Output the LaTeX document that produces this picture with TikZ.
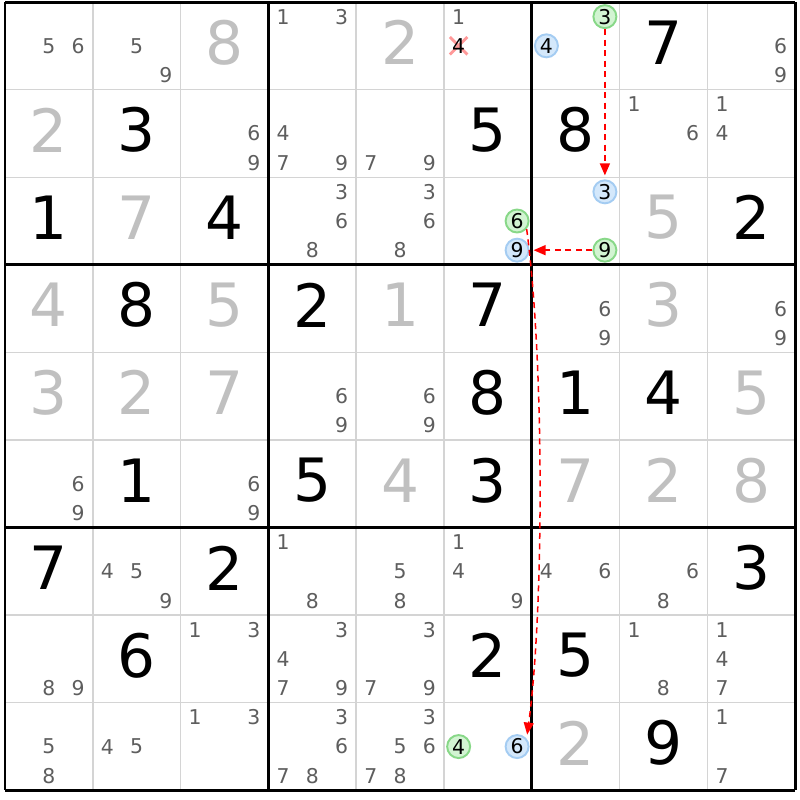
\documentclass[tikz,border=0pt]{standalone}
\usepackage{fontspec}
\setmainfont{DejaVu Sans}
\usepackage{tikz}
\usetikzlibrary{arrows.meta}
\definecolor{solvedgray}{HTML}{C0C0C0}
\definecolor{candgray}{HTML}{5E5E5E}
\definecolor{gridgray}{HTML}{D4D4D4}
\definecolor{greenfill}{HTML}{D2F4D2}
\definecolor{greenline}{HTML}{88D888}
\definecolor{bluefill}{HTML}{D4E8FB}
\definecolor{blueline}{HTML}{A4CCF2}
\tikzstyle{given} = [font=\fontsize{17pt}{17pt}\selectfont, text=black, inner sep=0pt, yshift=0.035cm]
\tikzstyle{solved} = [given, text=solvedgray]
\tikzstyle{cand} = [font=\fontsize{5.8pt}{6pt}\selectfont, text=candgray, inner sep=0pt]
\tikzstyle{greencand} = [cand, text=black, circle, minimum size=0.23cm, fill=greenfill, draw=greenline, line width=0.55pt]
\tikzstyle{bluecand} = [greencand, fill=bluefill, draw=blueline]
\tikzstyle{thin} = [gridgray, line width=0.4pt]
\tikzstyle{thick} = [black, line width=0.85pt]
\tikzstyle{strike} = [red, opacity=0.4, line width=0.8pt]
\tikzstyle{arrow} = [red, line width=0.43pt, dash pattern=on 0.06cm off 0.045cm, -{Triangle[length=0.12cm, width=0.1cm]}, shorten >=0.04cm]

\begin{document}
\begin{tikzpicture}[x=0.878cm, y=0.876cm]
        \fill [white] (-0.057,0.023) rectangle (9.055,-9.110);
        \useasboundingbox (-0.057,0.023) rectangle (9.055,-9.110);
        \foreach \i in {1,...,8} {
            \draw [thin] (\i,0) -- (\i,-9);
            \draw [thin] (0,-\i) -- (9,-\i);
        }
        \foreach \i in {0,3,6,9} {
            \draw [thick] (\i,0) -- (\i,-9);
            \draw [thick] (0,-\i) -- (9,-\i);
        }
        \foreach \r/\c/\d in {1/8/7, 2/2/3, 2/6/5, 2/7/8, 3/1/1, 3/3/4, 3/9/2, 4/2/8, 4/4/2, 4/6/7,
            5/6/8, 5/7/1, 5/8/4, 6/2/1, 6/4/5, 6/6/3, 7/1/7, 7/3/2, 7/9/3, 8/2/6, 8/6/2, 8/7/5, 9/8/9}
            \node (given\r\c) [given] at (\c-0.5,0.5-\r) {\d};
        \foreach \r/\c/\d in {1/3/8, 1/5/2, 2/1/2, 3/2/7, 3/8/5, 4/1/4, 4/3/5, 4/5/1, 4/8/3,
            5/1/3, 5/2/2, 5/3/7, 5/9/5, 6/5/4, 6/7/7, 6/8/2, 6/9/8, 9/7/2}
            \node (solved\r\c) [solved] at (\c-0.5,0.5-\r) {\d};
        \foreach \r/\c/\ds in {1/1/{5,6}, 1/2/{5,9}, 1/4/{1,3}, 1/6/{1}, 1/9/{6,9},
            2/3/{6,9}, 2/4/{4,7,9}, 2/5/{7,9}, 2/8/{1,6}, 2/9/{1,4},
            3/4/{3,6,8}, 3/5/{3,6,8}, 4/7/{6,9}, 4/9/{6,9}, 5/4/{6,9}, 5/5/{6,9},
            6/1/{6,9}, 6/3/{6,9}, 7/2/{4,5,9}, 7/4/{1,8}, 7/5/{5,8}, 7/6/{1,4,9},
            7/7/{4,6}, 7/8/{6,8}, 8/1/{8,9}, 8/3/{1,3}, 8/4/{3,4,7,9}, 8/5/{3,7,9},
            8/8/{1,8}, 8/9/{1,4,7}, 9/1/{5,8}, 9/2/{4,5}, 9/3/{1,3}, 9/4/{3,6,7,8},
            9/5/{3,5,6,7,8}, 9/9/{1,7}}
            \foreach \d in \ds
                \node (cand\r\c\d) [cand] at ({\c-1+(1+2*mod(\d-1,3))/6},{1-\r-(1+2*floor((\d-1)/3))/6}) {\d};
        \coordinate (cross164) at (5.167,-0.5);
        \draw [strike] (cross164) +(-0.1,0.1) -- +(0.1,-0.1) (cross164) +(-0.1,-0.1) -- +(0.1,0.1);
        \node (cand164) [cand, text=black] at (cross164) {4};
        \node (cand173) [greencand] at (6.833,-0.167) {3};
        \node (cand174) [bluecand] at (6.167,-0.5) {4};
        \node (cand366) [greencand] at (5.833,-2.5) {6};
        \node (cand369) [bluecand] at (5.833,-2.833) {9};
        \node (cand373) [bluecand] at (6.833,-2.167) {3};
        \node (cand379) [greencand] at (6.833,-2.833) {9};
        \node (cand964) [greencand] at (5.167,-8.5) {4};
        \node (cand966) [bluecand] at (5.833,-8.5) {6};
        \draw [arrow] (cand173) -- (cand373);
        \draw [arrow] (cand379) -- (cand369);
        \draw [arrow] (cand366.-40) .. controls +(0.2,-1.5) and +(0.2,1.5) .. (cand966.40);
    \end{tikzpicture}
\end{document}
